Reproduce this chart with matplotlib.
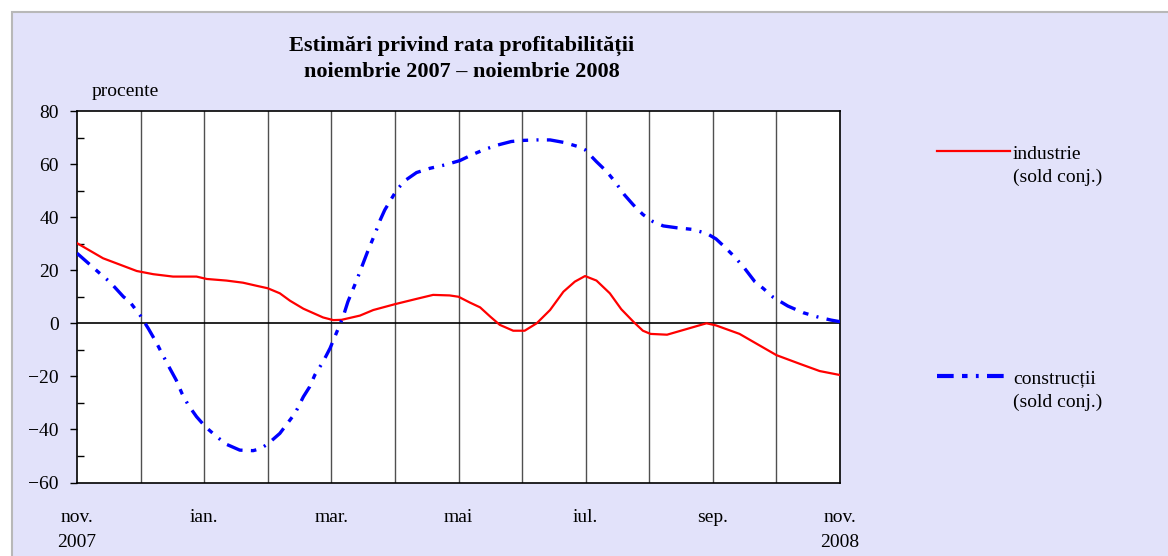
import matplotlib
matplotlib.use("Agg")
import matplotlib.pyplot as plt
from matplotlib.lines import Line2D
from matplotlib.patches import Rectangle

plt.rcParams['font.family'] = ['Liberation Serif', 'DejaVu Serif']
plt.rcParams['lines.scale_dashes'] = False

# ---- data (x in months since nov. 2007) ----
month_labels = ["nov.\n2007", "ian.", "mar.", "mai", "iul.", "sep.", "nov.\n2008"]
month_ticks = [0, 2, 4, 6, 8, 10, 12]

ind_x = [0, 0.41, 0.62, 0.94, 1.2, 1.51, 1.88, 2.04, 2.35, 2.61, 2.83, 3.0, 3.19,
         3.35, 3.56, 3.87, 4.03, 4.16, 4.45, 4.66, 5.0, 5.34, 5.6, 5.86, 6.0, 6.18,
         6.34, 6.5, 6.65, 6.86, 7.04, 7.23, 7.44, 7.65, 7.83, 7.99, 8.17, 8.38, 8.56,
         8.75, 8.9, 9.02, 9.28, 9.54, 9.9, 10.05, 10.42, 10.63, 11.0, 11.37, 11.68, 12.0]
ind_y = [30.2, 24.5, 22.6, 19.7, 18.5, 17.6, 17.6, 16.7, 16.1, 15.3, 14.1, 13.2, 11.3,
         8.5, 5.5, 2.2, 1.2, 1.3, 2.9, 5.0, 7.2, 9.2, 10.7, 10.5, 10.0, 7.8,
         6.0, 2.5, -0.6, -2.8, -2.8, 0.0, 5.0, 11.9, 15.7, 17.8, 16.1, 11.3, 5.3,
         0.6, -2.8, -4.0, -4.3, -2.5, 0.0, -0.8, -4.0, -6.9, -12.0, -15.3, -18.0, -19.5]

con_x = [0, 0.18, 0.34, 0.52, 0.73, 0.83, 0.99, 1.12, 1.24, 1.35, 1.46, 1.56, 1.65,
         1.75, 1.88, 2.02, 2.2, 2.35, 2.56, 2.77, 2.88, 3.0, 3.19, 3.43, 3.56, 3.66,
         3.74, 3.87, 3.98, 4.11, 4.19, 4.26, 4.4, 4.5, 4.58, 4.69, 4.77, 4.84, 4.95,
         5.03, 5.16, 5.34, 5.55, 5.79, 6.02, 6.23, 6.42, 6.62, 6.83, 6.99, 7.23, 7.44,
         7.67, 7.88, 7.99, 8.17, 8.33, 8.46, 8.61, 8.75, 8.9, 9.06, 9.22, 9.43, 9.67,
         9.9, 10.05, 10.18, 10.34, 10.5, 10.66, 10.79, 10.95, 11.18, 11.42, 11.63, 11.86, 12.0]
con_y = [26.4, 22.6, 19.2, 15.5, 10.0, 8.1, 3.1, -1.9, -6.9, -12.0, -17.0, -21.4, -26.4,
         -30.8, -35.2, -39.0, -42.8, -45.6, -47.8, -48.0, -47.3, -45.5, -41.5, -33.9, -27.7, -23.9,
         -19.5, -14.5, -9.4, -1.9, 2.8, 8.1, 16.3, 22.6, 27.6, 33.9, 39.0, 42.7, 47.1,
         50.3, 53.8, 56.8, 58.4, 59.7, 61.3, 63.7, 65.6, 67.2, 68.5, 68.9, 69.1, 69.1,
         68.1, 66.6, 65.4, 60.9, 57.2, 53.4, 48.4, 44.6, 41.0, 38.3, 36.7, 36.0, 35.4,
         33.9, 31.8, 28.9, 25.1, 20.7, 15.7, 13.2, 9.8, 6.5, 4.0, 2.5, 1.2, 0.6]

title = "Estimări privind rata profitabilității\nnoiembrie 2007 – noiembrie 2008"
series_names = ["industrie\n(sold conj.)", "construcții\n(sold conj.)"]

# ---- figure ----
W, H = 1168, 556
fig = plt.figure(figsize=(W / 100, H / 100), dpi=100)
fig.patch.set_facecolor("white")
bg = Rectangle((12 / W, -0.05), 1.1, 1 - 12 / H + 0.05, transform=fig.transFigure,
               facecolor="#E2E2FA", edgecolor="#B8B8B8", linewidth=1.5, zorder=0)
fig.add_artist(bg)

ax = fig.add_axes([77 / W, 1 - 482.5 / H, (840 - 77) / W, (482.5 - 111) / H])
ax.set_facecolor("white")
ax.set_xlim(0, 12)
ax.set_ylim(-60, 80)

for m in range(1, 12):
    ax.axvline(m, color="#505050", linewidth=1.0, zorder=1)
ax.axhline(0, color="black", linewidth=1.2, zorder=1)

ax.plot(ind_x, ind_y, color="#FF0000", linewidth=1.6, zorder=3)
ax.plot(con_x, con_y, color="#0000FF", linewidth=2.4, zorder=3,
        dashes=[12, 6, 4, 6, 1.5, 6], dash_capstyle="butt")

ax.set_yticks(range(-60, 81, 20))
ax.set_yticklabels([f"{v}".replace("-", "\u2212") for v in range(-60, 81, 20)], fontsize=14)
ax.set_yticks(range(-50, 80, 20), minor=True)
ax.tick_params(axis="y", which="major", direction="out", length=5, width=1, pad=8)
ax.tick_params(axis="y", which="minor", direction="in", length=5, width=1)
ax.set_xticks(month_ticks)
ax.set_xticklabels(month_labels, fontsize=14, linespacing=1.6)
ax.tick_params(axis="x", which="major", length=0, pad=19)
for s in ax.spines.values():
    s.set_color("black")
    s.set_linewidth(1.2)

fig.text(462 / W, 1 - 59 / H, title, ha="center", va="center", fontsize=16,
         fontweight="bold", linespacing=1.42)
fig.text(92 / W, 1 - 92 / H, "procente", ha="left", va="center", fontsize=14)

# legend
fig.add_artist(Line2D([937 / W, 1010 / W], [1 - 151 / H, 1 - 151 / H], color="#FF0000",
                      linewidth=1.6, transform=fig.transFigure))
fig.add_artist(Line2D([937 / W, 1010 / W], [1 - 376 / H, 1 - 376 / H], color="#0000FF",
                      linewidth=3.0, dashes=[12, 6, 4, 6, 2, 6], dash_capstyle="butt",
                      transform=fig.transFigure))
fig.text(1013 / W, 1 - 166 / H, series_names[0], ha="left", va="center", fontsize=14,
         linespacing=1.5)
fig.text(1013 / W, 1 - 390.5 / H, series_names[1], ha="left", va="center", fontsize=14,
         linespacing=1.5)

fig.savefig("out.png", dpi=100, facecolor=fig.get_facecolor())
